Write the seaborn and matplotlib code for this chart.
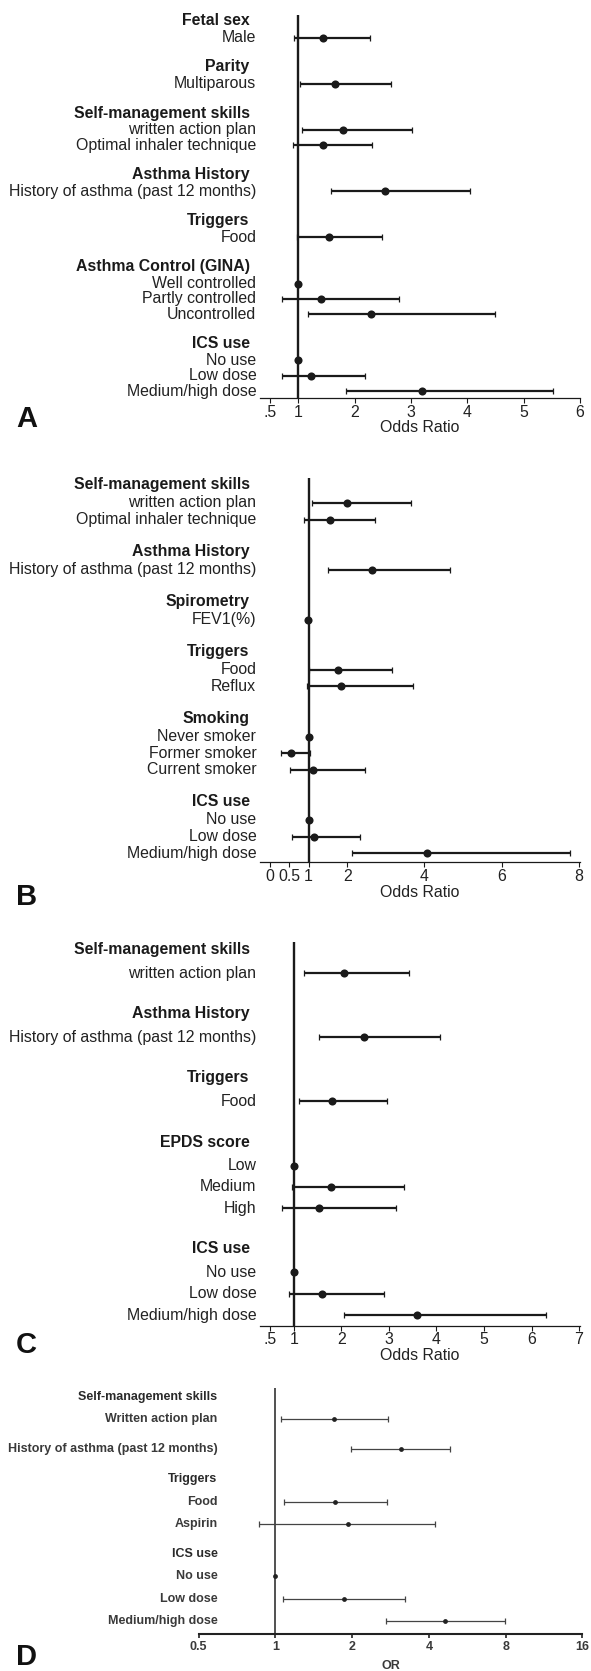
import numpy as np
import pandas as pd
import matplotlib
matplotlib.use("Agg")
import matplotlib.pyplot as plt
import seaborn as sns
from matplotlib.ticker import NullLocator
from matplotlib.transforms import blended_transform_factory

sns.set_theme(style="white")
plt.rcParams["font.family"] = ["Liberation Sans", "DejaVu Sans"]

# ---------------- data ----------------
# Panel A
a_groups = ["Fetal sex", "Parity", "Self-management skills", "Asthma History",
            "Triggers", "Asthma Control (GINA)", "ICS use"]
a_items = [["Male"], ["Multiparous"],
           ["written action plan", "Optimal inhaler technique"],
           ["History of asthma (past 12 months)"], ["Food"],
           ["Well controlled", "Partly controlled", "Uncontrolled"],
           ["No use", "Low dose", "Medium/high dose"]]
a_or = [1.44, 1.66, 1.80, 1.43, 2.53, 1.55, 1.00, 1.40, 2.29, 1.00, 1.23, 3.19]
a_lo = [0.92, 1.03, 1.07, 0.90, 1.58, 0.97, np.nan, 0.71, 1.17, np.nan, 0.71, 1.84]
a_hi = [2.27, 2.65, 3.02, 2.30, 4.05, 2.48, np.nan, 2.79, 4.50, np.nan, 2.18, 5.52]
a_ticks = [0.5, 1, 2, 3, 4, 5, 6]
a_ticklabels = [".5", "1", "2", "3", "4", "5", "6"]

# Panel B
b_groups = ["Self-management skills", "Asthma History", "Spirometry", "Triggers",
            "Smoking", "ICS use"]
b_items = [["written action plan", "Optimal inhaler technique"],
           ["History of asthma (past 12 months)"], ["FEV1(%)"],
           ["Food", "Reflux"],
           ["Never smoker", "Former smoker", "Current smoker"],
           ["No use", "Low dose", "Medium/high dose"]]
b_or = [1.99, 1.56, 2.63, 0.99, 1.76, 1.85, 1.00, 0.54, 1.11, 1.00, 1.13, 4.06]
b_lo = [1.08, 0.89, 1.49, np.nan, 1.00, 0.95, np.nan, 0.28, 0.52, np.nan, 0.56, 2.12]
b_hi = [3.66, 2.73, 4.67, np.nan, 3.15, 3.70, np.nan, 1.03, 2.47, np.nan, 2.34, 7.76]
b_ticks = [0, 0.5, 1, 2, 4, 6, 8]
b_ticklabels = ["0", "0.5", "1", "2", "4", "6", "8"]

# Panel C
c_groups = ["Self-management skills", "Asthma History", "Triggers", "EPDS score", "ICS use"]
c_items = [["written action plan"], ["History of asthma (past 12 months)"], ["Food"],
           ["Low", "Medium", "High"],
           ["No use", "Low dose", "Medium/high dose"]]
c_or = [2.05, 2.47, 1.81, 1.00, 1.78, 1.52, 1.00, 1.60, 3.59]
c_lo = [1.22, 1.52, 1.11, np.nan, 0.97, 0.75, np.nan, 0.90, 2.05]
c_hi = [3.42, 4.07, 2.96, np.nan, 3.31, 3.14, np.nan, 2.89, 6.31]
c_ticks = [0.5, 1, 2, 3, 4, 5, 6, 7]
c_ticklabels = [".5", "1", "2", "3", "4", "5", "6", "7"]

# Panel D
d_groups = ["Self-management skills", None, "Triggers", "ICS use"]
d_items = [["Written action plan"], ["History of asthma (past 12 months)"],
           ["Food", "Aspirin"], ["No use", "Low dose", "Medium/high dose"]]
d_or = [1.70, 3.12, 1.72, 1.92, 1.00, 1.86, 4.61]
d_lo = [1.056, 1.98, 1.085, 0.864, np.nan, 1.07, 2.71]
d_hi = [2.77, 4.85, 2.74, 4.21, np.nan, 3.21, 7.95]
d_ticks = [0.5, 1, 2, 4, 8, 16]
d_ticklabels = ["0.5", "1", "2", "4", "8", "16"]

panel_letters = ["A", "B", "C", "D"]


def build(groups, items, ors, los, his, gap):
    rows = []
    pos = 0.0
    k = 0
    for gi, (g, its) in enumerate(zip(groups, items)):
        if gi > 0:
            pos += gap
        if g is not None:
            rows.append(dict(label=g, kind="header", pos=pos, OR=np.nan, lo=np.nan, hi=np.nan))
            pos += 1
        for j, it in enumerate(its):
            if j > 0:
                pos += 1
            rows.append(dict(label=it, kind="item", pos=pos, OR=ors[k], lo=los[k], hi=his[k]))
            k += 1
    return pd.DataFrame(rows)


W, H = 591, 1671
fig = plt.figure(figsize=(W / 100, H / 100), dpi=100)


def px_axes(l, r, t, b):
    return fig.add_axes([l / W, 1 - b / H, (r - l) / W, (b - t) / H])


def draw(df, box, xlim, ylim_pad, ticks, ticklabels, xlabel, letter, letter_y,
         item_x, head_x, style):
    ax = px_axes(*box)
    col = style["color"]
    items = df[df.kind == "item"]
    ci = items.dropna(subset=["lo"])
    if style.get("log"):
        ax.set_xscale("log", base=2)
    ax.errorbar(x=ci["OR"], y=ci["pos"],
                xerr=[ci["OR"] - ci["lo"], ci["hi"] - ci["OR"]],
                fmt="none", ecolor=style["ci_color"], elinewidth=style["ci_lw"],
                capsize=style["capsize"], capthick=style["capthick"], zorder=3)
    ax.axvline(1, color=col, lw=style["ref_lw"], zorder=2)
    sns.scatterplot(data=items, x="OR", y="pos", ax=ax, color=col, s=style["ms"],
                    linewidth=0, zorder=5, legend=False)
    ax.set_xlim(*xlim)
    ax.set_ylim(df.pos.max() + ylim_pad[1], -ylim_pad[0])
    ax.set_yticks([])
    ax.set_ylabel("")
    ax.set_xticks(ticks)
    ax.set_xticklabels(ticklabels)
    if style.get("log"):
        ax.xaxis.set_minor_locator(NullLocator())
    for s in ["left", "right", "top"]:
        ax.spines[s].set_visible(False)
    ax.spines["bottom"].set_color(col)
    ax.spines["bottom"].set_linewidth(style["spine_lw"])
    ax.tick_params(axis="x", bottom=True, direction="out", length=style["tick_len"],
                   width=style["tick_w"], color=col, labelcolor=style["text_color"],
                   labelsize=style["fs"], pad=style["pad"])
    for lab in ax.get_xticklabels():
        lab.set_fontweight(style["tick_weight"])
    ax.set_xlabel(xlabel, fontsize=style["fs"], color=style["text_color"],
                  labelpad=style["labelpad"], fontweight=style["tick_weight"])
    tr = blended_transform_factory(fig.transFigure, ax.transData)
    for _, r in df.iterrows():
        if r.kind == "header":
            ax.text(head_x / W, r.pos - style["head_dy"], r.label, transform=tr,
                    ha="right", va="center", fontsize=style["fs"], fontweight="bold",
                    color=style["head_color"])
        else:
            ax.text(item_x / W, r.pos, r.label, transform=tr, ha="right", va="center",
                    fontsize=style["fs"], fontweight=style["item_weight"],
                    color=style["text_color"])
    fig.text(16 / W, 1 - letter_y / H, letter, fontsize=21, fontweight="bold",
             color="#111111", ha="left", va="baseline")
    return ax


style_abc = dict(color="#1a1a1a", ci_color="#1a1a1a", ci_lw=1.6, capsize=2.3, capthick=0.9,
                 ref_lw=1.7, ms=34, spine_lw=0.9, tick_len=3.3, tick_w=0.8,
                 text_color="#222222", head_color="#1a1a1a", fs=11.4, pad=1.5,
                 labelpad=0.5, tick_weight="normal", item_weight="normal", head_dy=0.1)
style_d = dict(color="#222222", ci_color="#444444", ci_lw=0.9, capsize=2.2, capthick=0.9,
               ref_lw=1.1, ms=12, spine_lw=1.5, tick_len=3.0, tick_w=1.2,
               text_color="#3a3a3a", head_color="#2a2a2a", fs=9, pad=2,
               labelpad=5, tick_weight="bold", item_weight="bold", head_dy=0.0, log=True)

dfa = build(a_groups, a_items, a_or, a_lo, a_hi, 2)
dfb = build(b_groups, b_items, b_or, b_lo, b_hi, 2)
dfc = build(c_groups, c_items, c_or, c_lo, c_hi, 2)
dfd = build(d_groups, d_items, d_or, d_lo, d_hi, 1.33)

draw(dfa, (260, 580, 15, 398), (0.32, 6.0), (0.48, 0.45), a_ticks, a_ticklabels,
     "Odds Ratio", panel_letters[0], 427, 256.3, 249.5, style_abc)
draw(dfb, (260, 580, 478.3, 862.3), (-0.26, 8.03), (0.48, 0.54), b_ticks, b_ticklabels,
     "Odds Ratio", panel_letters[1], 905, 256.3, 249.5, style_abc)
draw(dfc, (260, 580, 942.3, 1325.7), (0.287, 7.02), (0.45, 0.5), c_ticks, c_ticklabels,
     "Odds Ratio", panel_letters[2], 1353, 256.3, 249.5, style_abc)
draw(dfd, (198.6, 582.4, 1388, 1634), (0.5, 16), (0.39, 0.56), d_ticks, d_ticklabels,
     "OR", panel_letters[3], 1665, 217.5, 217.5, style_d)

fig.savefig("out.png", dpi=100, facecolor="white")
